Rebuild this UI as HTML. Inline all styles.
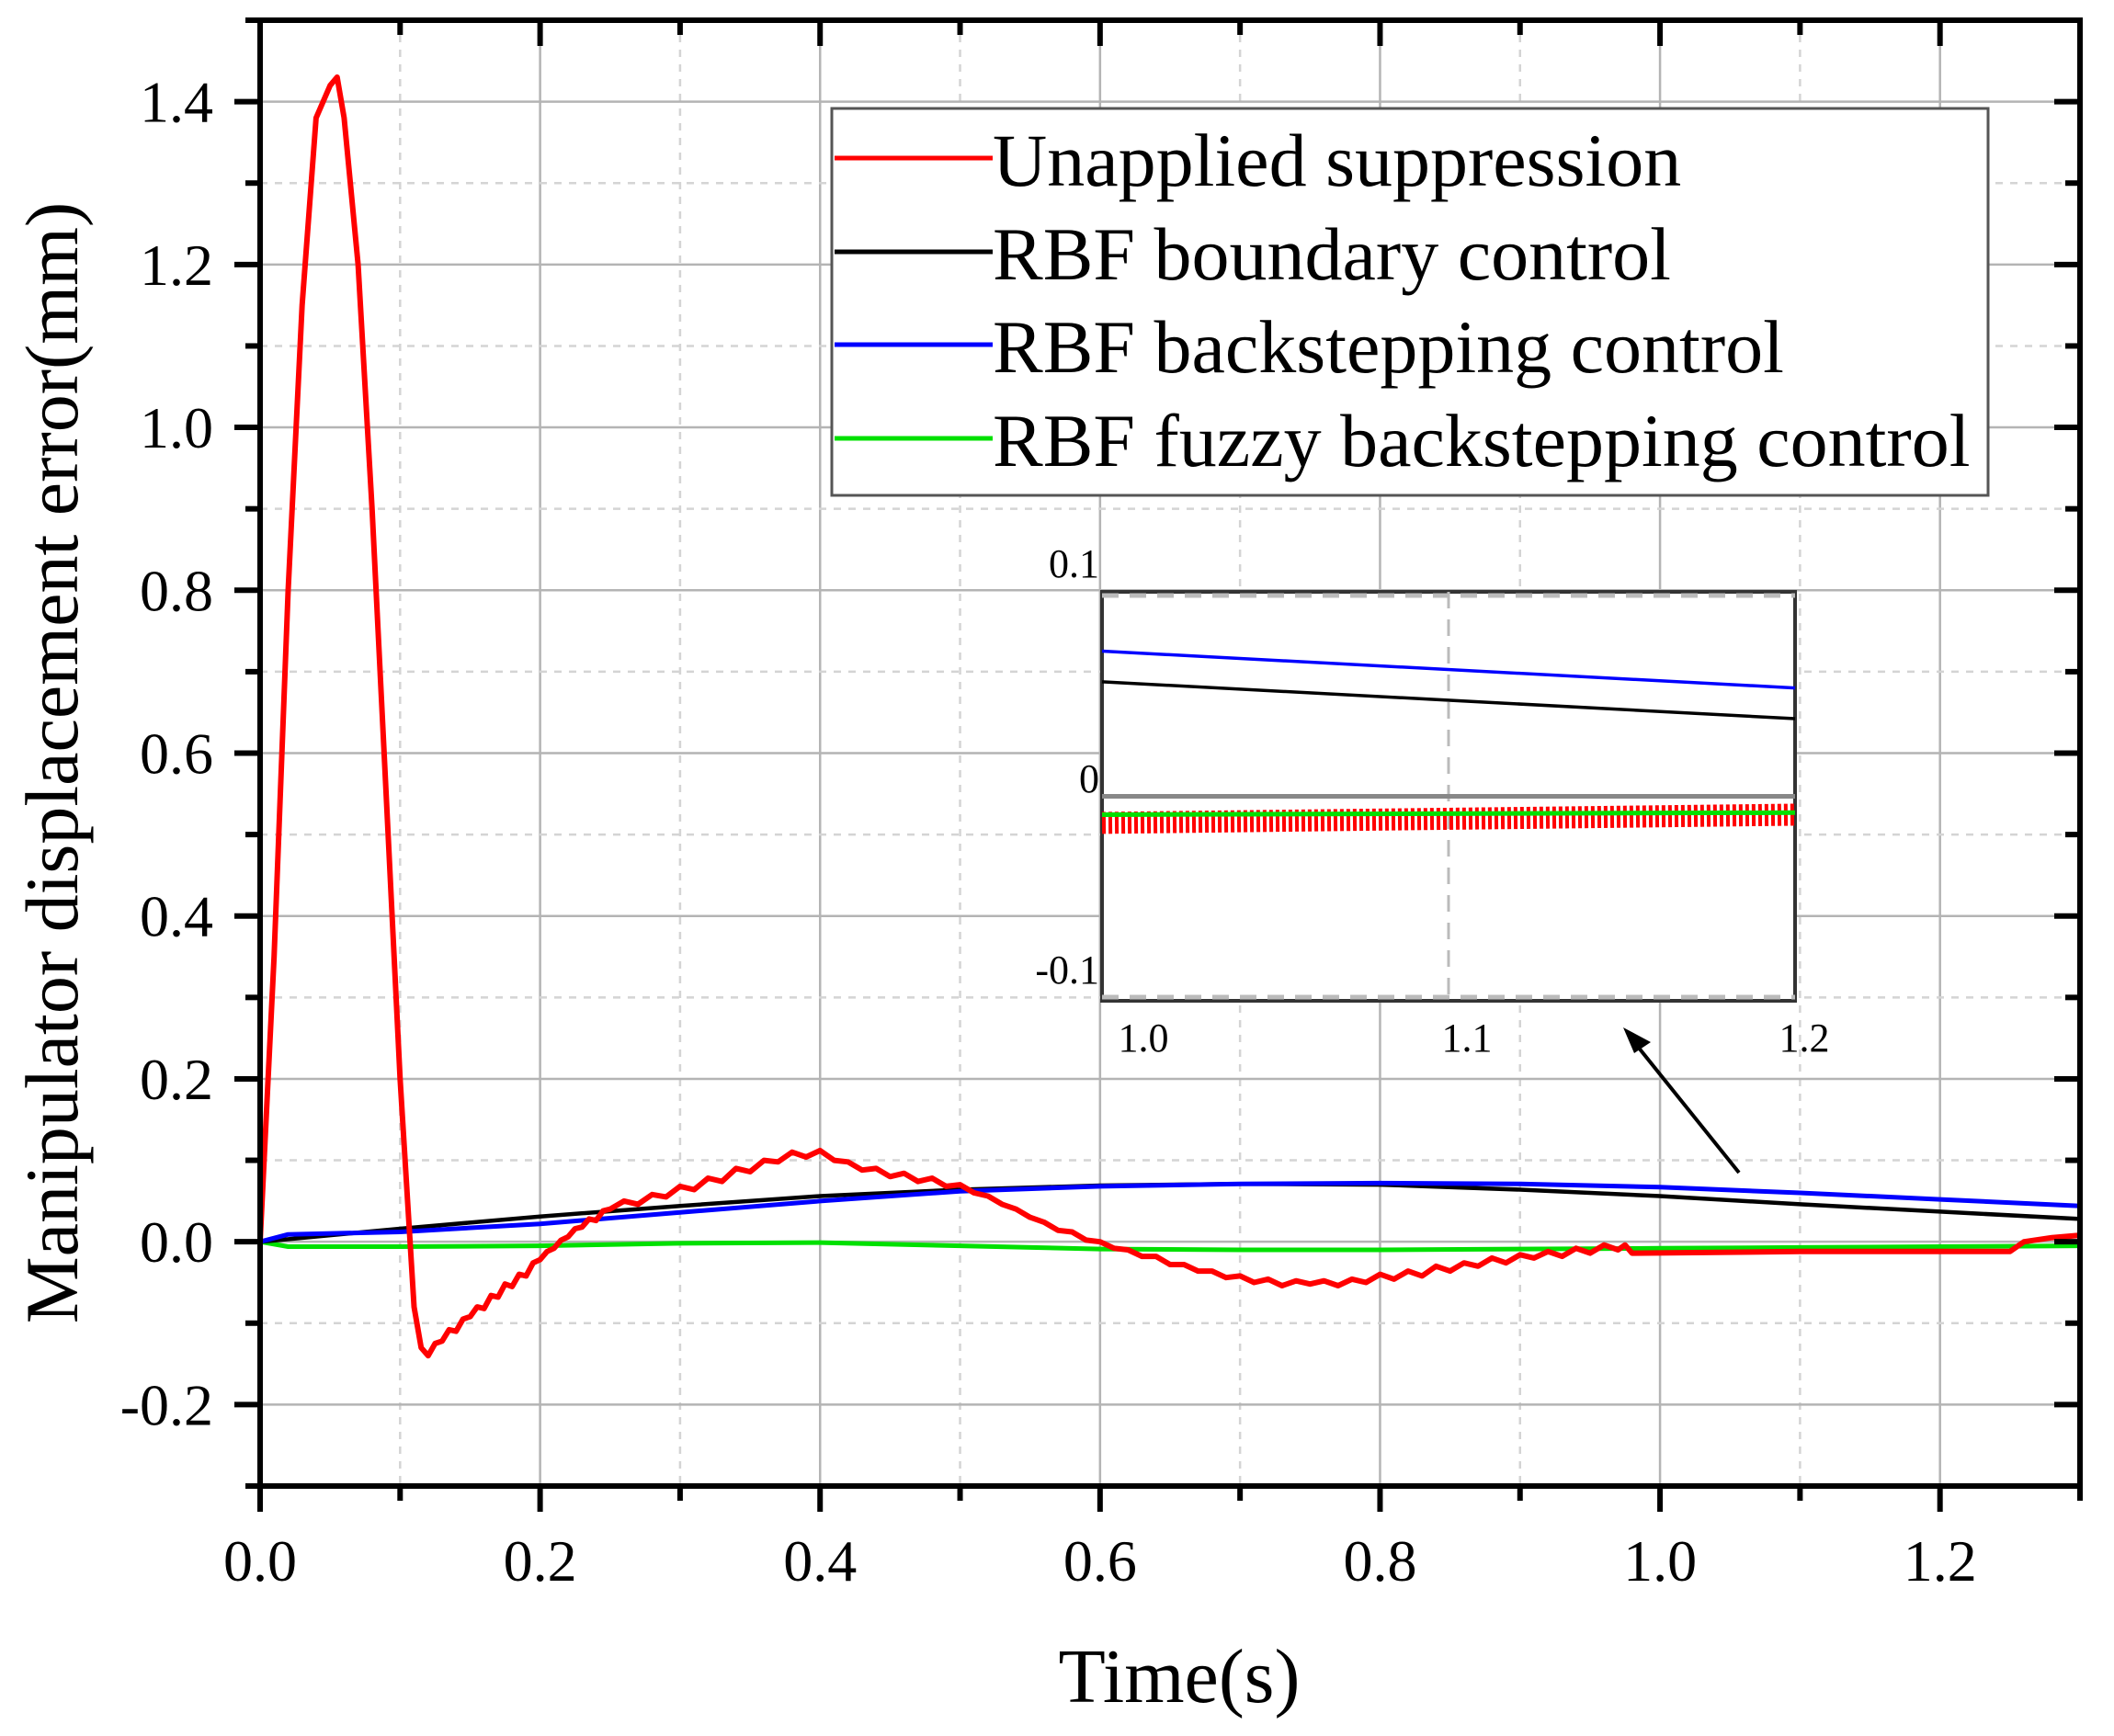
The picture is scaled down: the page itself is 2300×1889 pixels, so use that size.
<!DOCTYPE html>
<html><head><meta charset="utf-8"><style>
html,body{margin:0;padding:0;background:#fff;}
svg text{font-family:"Liberation Serif",serif;fill:#000;}
</style></head><body>
<svg id="chart" width="2300" height="1884" viewBox="0 0 2300 1884" xmlns="http://www.w3.org/2000/svg">
<g id="grid"></g>
<g id="series"></g>
<g id="axes"></g>
<g id="inset"></g>
<g id="legend"></g>
<text x="1283" y="1852" font-size="84" text-anchor="middle">Time(s)</text>
<text transform="translate(84,830) rotate(-90)" font-size="82" text-anchor="middle">Manipulator displacement error(mm)</text>
<line x1="1892" y1="1276" x2="1778" y2="1134" stroke="#000" stroke-width="4"/>
<polygon points="1766,1118 1796,1134 1778,1146" fill="#000"/>
</svg>
<script>
// ---- data ----
const xTicks = [0.0,0.2,0.4,0.6,0.8,1.0,1.2];
const xTickLabels = ["0.0","0.2","0.4","0.6","0.8","1.0","1.2"];
const yTicks = [-0.2,0.0,0.2,0.4,0.6,0.8,1.0,1.2,1.4];
const yTickLabels = ["-0.2","0.0","0.2","0.4","0.6","0.8","1.0","1.2","1.4"];
const seriesNames = ["Unapplied suppression","RBF boundary control","RBF backstepping control","RBF fuzzy backstepping control"];
const redT = [0,0.01,0.02,0.03,0.04,0.05,0.055,0.06,0.07,0.08,0.09,0.1,0.11,0.115,0.12,0.125,0.13,0.135,0.14,0.145,0.15,0.155,0.16,0.165,0.17,0.175,0.18,0.185,0.19,0.195,0.2,0.205,0.21,0.215,0.22,0.225,0.23,0.235,0.24,0.245,0.25,0.26,0.27,0.28,0.29,0.3,0.31,0.32,0.33,0.34,0.35,0.36,0.37,0.38,0.39,0.4,0.41,0.42,0.43,0.44,0.45,0.46,0.47,0.48,0.49,0.5,0.51,0.52,0.53,0.54,0.55,0.56,0.57,0.58,0.59,0.6,0.61,0.62,0.63,0.64,0.65,0.66,0.67,0.68,0.69,0.7,0.71,0.72,0.73,0.74,0.75,0.76,0.77,0.78,0.79,0.8,0.81,0.82,0.83,0.84,0.85,0.86,0.87,0.88,0.89,0.9,0.91,0.92,0.93,0.94,0.95,0.96,0.97,0.975,0.98,1.1,1.25,1.26,1.28,1.3];
const redV = [0,0.35,0.8,1.15,1.38,1.42,1.43,1.38,1.2,0.9,0.55,0.2,-0.08,-0.13,-0.14,-0.125,-0.122,-0.108,-0.11,-0.095,-0.092,-0.08,-0.082,-0.066,-0.068,-0.052,-0.055,-0.04,-0.042,-0.026,-0.022,-0.012,-0.008,0.002,0.006,0.016,0.018,0.028,0.026,0.038,0.04,0.05,0.046,0.058,0.055,0.068,0.064,0.078,0.074,0.09,0.086,0.1,0.098,0.11,0.104,0.112,0.1,0.098,0.088,0.09,0.08,0.084,0.074,0.078,0.068,0.07,0.06,0.056,0.046,0.04,0.03,0.024,0.014,0.012,0.002,0.0,-0.008,-0.01,-0.018,-0.018,-0.028,-0.028,-0.036,-0.036,-0.044,-0.042,-0.05,-0.046,-0.054,-0.048,-0.052,-0.048,-0.054,-0.046,-0.05,-0.04,-0.046,-0.036,-0.042,-0.03,-0.036,-0.026,-0.03,-0.02,-0.026,-0.016,-0.02,-0.012,-0.018,-0.008,-0.014,-0.004,-0.01,-0.004,-0.014,-0.012,-0.012,0.0,0.005,0.008];
const blackT = [0,0.1,0.2,0.3,0.4,0.5,0.6,0.7,0.8,0.9,1.0,1.1,1.2,1.3];
const blackV = [0,0.016,0.031,0.044,0.056,0.064,0.069,0.071,0.07,0.064,0.056,0.046,0.037,0.028];
const blueT = [0,0.02,0.1,0.2,0.3,0.4,0.5,0.6,0.7,0.8,0.9,1.0,1.1,1.2,1.3];
const blueV = [0,0.009,0.012,0.022,0.036,0.05,0.062,0.068,0.071,0.072,0.071,0.067,0.06,0.052,0.044];
const greenT = [0,0.02,0.1,0.2,0.3,0.4,0.5,0.6,0.7,0.8,0.9,1.0,1.1,1.2,1.3];
const greenV = [0,-0.006,-0.006,-0.005,-0.002,-0.001,-0.005,-0.009,-0.01,-0.01,-0.009,-0.008,-0.007,-0.006,-0.005];
// inset data
const insetXTicks = [1.0,1.1,1.2];
const insetXLabels = ["1.0","1.1","1.2"];
const insetYTicks = [0.1,0,-0.1];
const insetYLabels = ["0.1","0","-0.1"];
const insetT = [1.0,1.2];
const insetBlue = [0.071,0.053];
const insetBlack = [0.056,0.038];
const insetGreen = [-0.009,-0.008];
const insetRed = [-0.013,-0.009];

const NS="http://www.w3.org/2000/svg";
function mk(tag,attrs,parent){const e=document.createElementNS(NS,tag);for(const k in attrs)e.setAttribute(k,attrs[k]);parent.appendChild(e);return e;}
const L=283,R=2263,T=22,B=1617,XMIN=0,XMAX=1.3,YMIN=-0.3,YMAX=1.5;
const xs=v=>L+(v-XMIN)/(XMAX-XMIN)*(R-L);
const ys=v=>B-(v-YMIN)/(YMAX-YMIN)*(B-T);
const grid=document.getElementById('grid'),axes=document.getElementById('axes'),series=document.getElementById('series');

for(let i=1;i<13;i++){const v=i/10;const major=i%2===0;
 const g=mk('line',{x1:xs(v),x2:xs(v),y1:T,y2:B,stroke:major?'#b4b4b4':'#d4d4d4','stroke-width':2.5,'stroke-dasharray':major?'none':'8 8'},grid);
 
 }
for(let i=-2;i<15;i++){const v=i/10;if(i===0)continue;const major=i%2===0;
 const g=mk('line',{x1:L,x2:R,y1:ys(v),y2:ys(v),stroke:major?'#b4b4b4':'#d4d4d4','stroke-width':2.5,'stroke-dasharray':major?'none':'8 8'},grid);
 
 }
const z=mk('line',{x1:L,x2:R,y1:ys(0),y2:ys(0),stroke:'#b4b4b4','stroke-width':2.5},grid);



function line(T_,V_,color,w,name,xf,yf,parent,extra){
 const d=T_.map((t,i)=>(i?'L':'M')+xf(t).toFixed(1)+','+yf(V_[i]).toFixed(1)).join(' ');
 const p=mk('path',Object.assign({d:d,fill:'none',stroke:color,'stroke-width':w,'stroke-linejoin':'round'},extra||{}),parent);
 
 
 return p;}
line(greenT,greenV,'#00e000',5,'series-rbf-fuzzy-backstepping',xs,ys,series);
line(blackT,blackV,'#000',4.5,'series-rbf-boundary',xs,ys,series);
line(blueT,blueV,'#0000ff',5,'series-rbf-backstepping',xs,ys,series);
line(redT,redV,'#ff0000',6,'series-unapplied-suppression',xs,ys,series);

const fr=mk('rect',{x:L,y:T,width:R-L,height:B-T,fill:'none',stroke:'#000','stroke-width':6},axes);


for(let i=0;i<=13;i++){const v=i/10;const major=i%2===0;const len=major?28:16;
 const t1=mk('line',{x1:xs(v),x2:xs(v),y1:B,y2:B+len,stroke:'#000','stroke-width':6},axes);
 
 
 const t2=mk('line',{x1:xs(v),x2:xs(v),y1:T,y2:T+len,stroke:'#000','stroke-width':6},axes);
 
 }
for(let i=-3;i<=15;i++){const v=i/10;const major=i%2===0;const len=major?28:16;
 const t1=mk('line',{x1:L-len,x2:L,y1:ys(v),y2:ys(v),stroke:'#000','stroke-width':6},axes);
 
 
 const t2=mk('line',{x1:R-len,x2:R,y1:ys(v),y2:ys(v),stroke:'#000','stroke-width':6},axes);
 
 }
xTicks.forEach((v,i)=>{const t=mk('text',{x:xs(v),y:1720,'font-size':64,'text-anchor':'middle'},axes);t.textContent=xTickLabels[i];
 
 });
yTicks.forEach((v,i)=>{const t=mk('text',{x:232,y:ys(v)+22,'font-size':64,'text-anchor':'end'},axes);t.textContent=yTickLabels[i];
 
 });

const inset=document.getElementById('inset');
const IL=1199,IR=1953,IT=644,IB=1089;
const ixs=v=>IL+(v-1.0)/0.2*(IR-IL);
const iys=v=>IT+(0.1-v)/0.2*(IB-IT);
const bg=mk('rect',{x:IL,y:IT,width:IR-IL,height:IB-IT,fill:'#fff',stroke:'#333','stroke-width':4},inset);


[IT+4,IB-4].forEach(y=>{const d=mk('line',{x1:IL,x2:IR,y1:y,y2:y,stroke:'#bbb','stroke-width':5,'stroke-dasharray':'18 12'},inset);
 
 });
const ig=mk('line',{x1:ixs(1.1),x2:ixs(1.1),y1:IT,y2:IB,stroke:'#bbb','stroke-width':3,'stroke-dasharray':'18 12'},inset);


const iz=mk('line',{x1:IL,x2:IR,y1:iys(0),y2:iys(0),stroke:'#888','stroke-width':5},inset);


line(insetT,insetBlue,'#0000ff',3.5,'inset-series-rbf-backstepping',ixs,iys,inset);
line(insetT,insetBlack,'#000',3.5,'inset-series-rbf-boundary',ixs,iys,inset);
line(insetT,insetRed,'#ff0000',24,'inset-series-unapplied-suppression',ixs,iys,inset,{'stroke-dasharray':'4 3'});
line(insetT,insetGreen,'#00e000',5,'inset-series-rbf-fuzzy-backstepping',ixs,iys,inset);
const ixOff=[45,20,10];
insetXTicks.forEach((v,i)=>{const t=mk('text',{x:ixs(v)+ixOff[i],y:1144,'font-size':44,'text-anchor':'middle'},inset);t.textContent=insetXLabels[i];
 
 });
const iyPos=[628,862,1070];
insetYTicks.forEach((v,i)=>{const t=mk('text',{x:1196,y:iyPos[i],'font-size':44,'text-anchor':'end'},inset);t.textContent=insetYLabels[i];
 
 });

const lg=document.getElementById('legend');
const lb=mk('rect',{x:905,y:118,width:1258,height:421,fill:'#fff',stroke:'#555','stroke-width':3},lg);


const colors=['#ff0000','#000','#0000ff','#00e000'];
const rowY=[172,274,375,477];
seriesNames.forEach((n,i)=>{
 const s=mk('line',{x1:908,x2:1080,y1:rowY[i],y2:rowY[i],stroke:colors[i],'stroke-width':5},lg);
 
 
 const t=mk('text',{x:1080,y:rowY[i]+30,'font-size':82},lg);t.textContent=n;
 
 });
</script>
</body></html>
